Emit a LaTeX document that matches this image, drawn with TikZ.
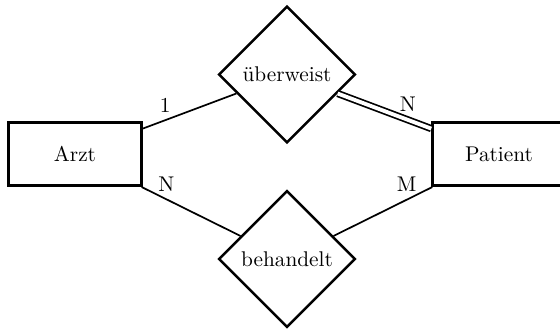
\documentclass[tikz,border=0pt]{standalone}
\usetikzlibrary{shapes.geometric}
\begin{document}
\begin{tikzpicture}[x=0.4695pt,y=-0.4695pt,
  entity/.style={draw,line width=1.2pt,rectangle,inner sep=0pt,minimum width=62.4pt,minimum height=29.8pt,font=\normalsize},
  relation/.style={draw,line width=1.2pt,diamond,aspect=1,inner sep=0pt,minimum width=64.2pt,minimum height=64.2pt},
  conn/.style={line width=0.8pt},
  dconn/.style={line width=0.8pt,double,double distance=1.8pt}]
\useasboundingbox (0,0) rectangle (560,329);
\node[entity] (arzt) at (75,154) {Arzt};
\node[entity] (patient) at (499,154) {Patient};
\node[relation] (uw) at (287,74.5) {überweist};
\node[relation] (bh) at (287,259) {behandelt};
\draw[conn] (arzt) -- node[pos=0.24,above] {1} (uw);
\draw[dconn] (uw) -- node[pos=0.75,above] {N} (patient);
\draw[conn] (arzt) -- node[pos=0.25,above] {N} (bh);
\draw[conn] (bh) -- node[pos=0.74,above] {M} (patient);
\end{tikzpicture}
\end{document}
